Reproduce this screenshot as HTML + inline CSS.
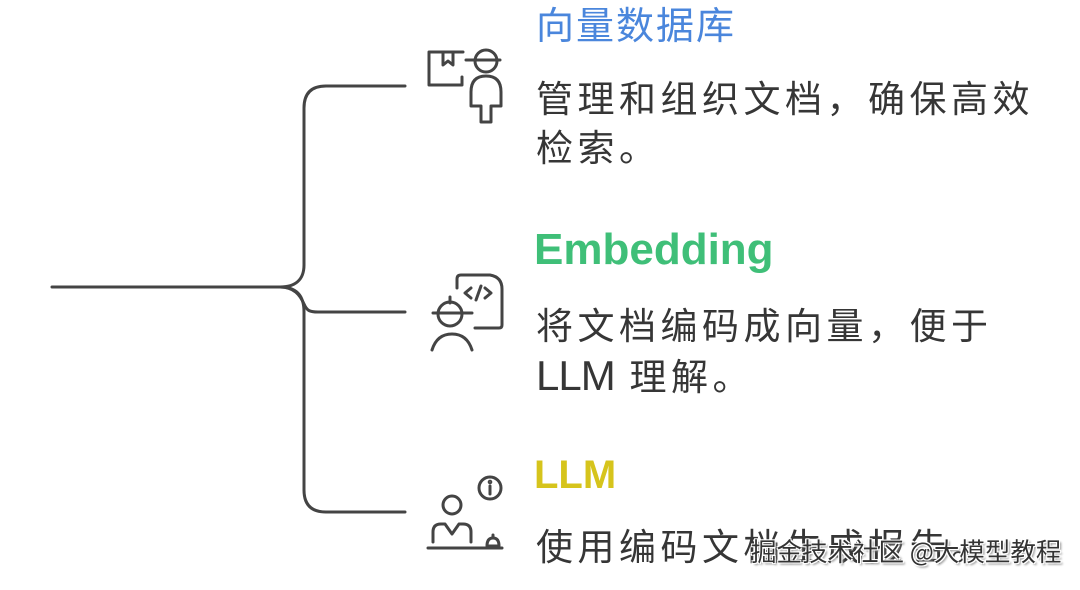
<!DOCTYPE html>
<html>
<head>
<meta charset="utf-8">
<style>
  html, body { margin:0; padding:0; background:#ffffff; }
  #c { position:relative; width:1080px; height:590px; overflow:hidden; background:#fff; }
  svg { position:absolute; left:0; top:0; }
  .t { position:absolute; white-space:nowrap; }
  .title1 { left:536px; top:4px; font-size:38px; line-height:38px; letter-spacing:2px; color:#4a86dc; font-family:"Noto Sans CJK SC",sans-serif; }
  .body { font-size:37px; line-height:49px; letter-spacing:4.5px; color:#363636; font-family:"Liberation Sans","Noto Sans CJK SC",sans-serif; }
  .lat { font-size:42px; letter-spacing:-1px; }
  .ttl { font-family:"Liberation Sans",sans-serif; font-weight:bold; }
  .wm { left:751px; top:536px; font-size:25.5px; line-height:30px; color:#333; font-family:"Noto Sans CJK SC",sans-serif;
        text-shadow: 1px 1px 0 #fff, -1px -1px 0 #fff, 1px -1px 0 #fff, -1px 1px 0 #fff, 2px 2px 2px #888; }
</style>
</head>
<body>
<div id="c">
<svg width="1080" height="590" viewBox="0 0 1080 590" fill="none" stroke="#444" stroke-width="3" stroke-linecap="round" stroke-linejoin="round">
  <!-- connectors -->
  <path d="M52 287 L280 287"/>
  <path d="M280 287 C295 287 304 280 304 265 L304 108 Q304 86 326 86 L405 86"/>
  <path d="M280 287 C294 287 300 295 304 304 C307 311 310 312 318 312 L405 312"/>
  <path d="M280 287 C296 287 304 295 304 312 L304 490 Q304 512 326 512 L405 512"/>

  <!-- icon 1 -->
  <path d="M462 77 L462 85 L429 85 L429 52 L463 52"/>
  <path d="M443 52 L443 65 L448 61 L453 65 L453 52"/>
  <circle cx="486" cy="61" r="11"/>
  <path d="M466 60 L500 60"/>
  <path d="M481 122 L481 106 L471 106 L471 92 Q471 76 486 76 Q501 76 501 92 L501 106 L491 106 L491 122 Z"/>

  <!-- icon 2 -->
  <path d="M457 288 L457 279 Q457 275 461 275 L490 275 Q502 277 502 289 L502 325 Q502 328 499 328 L475 328"/>
  <path d="M471 288 L465 293 L471 298"/>
  <path d="M481 286 L476 300"/>
  <path d="M485 288 L491 293 L485 298"/>
  <circle cx="450" cy="314" r="12"/>
  <path d="M433 313 L472 313"/>
  <path d="M450 297 L450 303"/>
  <path d="M432 350 Q437 334 452 334 Q467 334 472 350"/>

  <!-- icon 3 -->
  <circle cx="490" cy="488" r="11"/>
  <path d="M490 486 L490 494"/>
  <circle cx="490" cy="482" r="0.8" fill="#444"/>
  <circle cx="452" cy="505" r="9"/>
  <path d="M433 542 L433 532 Q433 524 441 524 L445 524 L452 534 L459 524 L463 524 Q471 524 471 532 L471 542"/>
  <path d="M428 548 L502 548"/>
  <path d="M487 546 Q487 538 493 538 Q499 538 499 546 Z"/>
  <path d="M493 535 L493 537"/>
</svg>

<div class="t title1">向量数据库</div>
<div class="t body" style="left:536px; top:75px;">管理和组织文档，确保高效</div>
<div class="t body" style="left:536px; top:124px;">检索。</div>

<div class="t ttl" style="left:534px; top:228px; font-size:44px; line-height:44px; color:#3fbf78;">Embedding</div>
<div class="t body" style="left:536px; top:302px;">将文档编码成向量，便于</div>
<div class="t body" style="left:536px; top:351px;"><span class="lat">LLM</span> 理解。</div>

<div class="t ttl" style="left:534px; top:455px; font-size:40px; line-height:40px; color:#d6c41c;">LLM</div>
<div class="t body" style="left:536px; top:523px;">使用编码文档生成报告。</div>

<div class="t wm">掘金技术社区 @大模型教程</div>
</div>
</body>
</html>
